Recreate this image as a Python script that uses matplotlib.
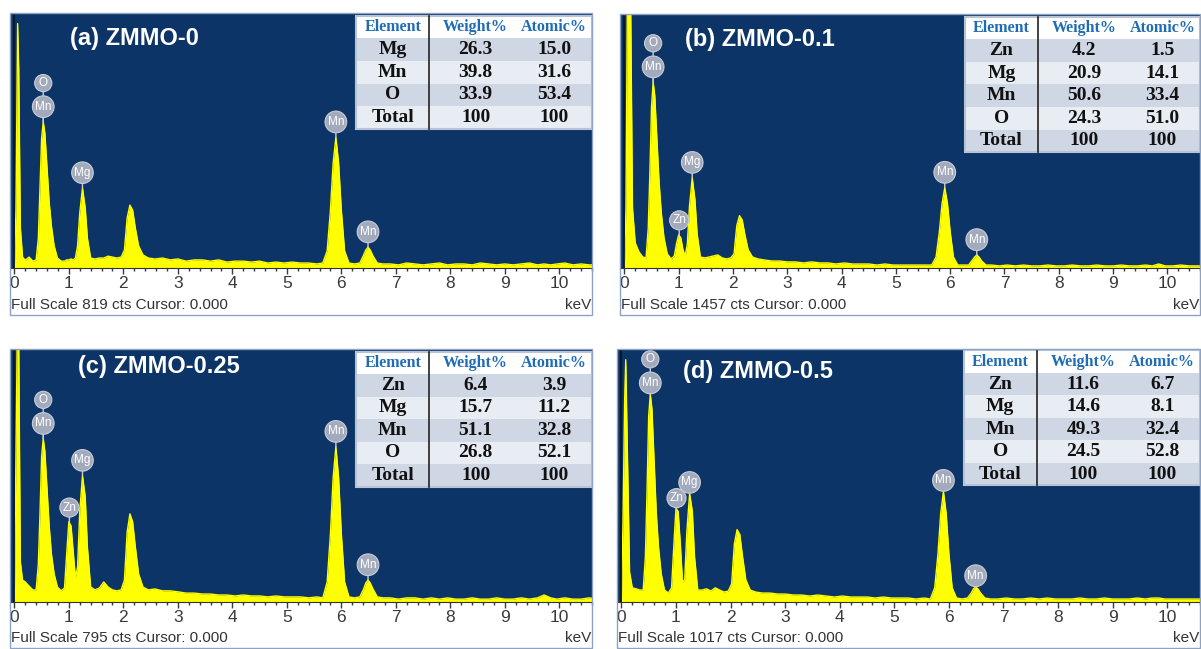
# -*- coding: utf-8 -*-
"""
EDS-spekter for ZMMO-prøvene (a)-(d), med tabell over grunnstoffsammensetning.
"""

import numpy as np
import matplotlib.pyplot as plt
from matplotlib.patches import Rectangle
from matplotlib.ticker import MultipleLocator

# =========================================================================== #
# ================================== Data =================================== #

# energiakse (keV), felles for alle fire spektrene
energy = [
    # lavenergi-topp
    0.00, 0.03, 0.06, 0.08, 0.11, 0.15, 0.20, 0.27, 0.34,
    # O K / Mn L
    0.40, 0.44, 0.47, 0.50, 0.53, 0.56, 0.60, 0.64, 0.68, 0.73, 0.79, 0.86,
    # Zn L / Mg K
    0.92, 0.96, 1.00, 1.04, 1.08, 1.12, 1.16, 1.20, 1.25, 1.30, 1.34, 1.40,
    # bakgrunn
    1.48, 1.56, 1.64, 1.72, 1.80, 1.88, 1.96,
    # topp ved 2.1 keV
    2.02, 2.07, 2.12, 2.17, 2.22, 2.28, 2.36, 2.46,
    # bakgrunn
    2.58, 2.72, 2.86, 3.00, 3.15, 3.30, 3.45, 3.60, 3.75, 3.90, 4.05, 4.20,
    4.35, 4.50, 4.65, 4.80, 4.95, 5.10, 5.25, 5.40, 5.55, 5.66,
    # Mn K-alfa / K-beta
    5.74, 5.80, 5.85, 5.90, 5.95, 6.00, 6.06, 6.14, 6.24, 6.34, 6.41, 6.45,
    6.49, 6.53, 6.58, 6.66, 6.76,
    # høyenergi-bakgrunn
    6.90, 7.05, 7.20, 7.35, 7.50, 7.65, 7.80, 7.95, 8.10, 8.25, 8.40, 8.55,
    8.70, 8.85, 9.00, 9.15, 9.30, 9.45, 9.60, 9.72, 9.84, 9.96, 10.10, 10.25,
    10.40, 10.55, 10.70,
]

counts_a = [
    0, 190, 785, 640, 130, 35, 25, 35, 22,
    26, 96, 257, 417, 469, 433, 321, 209, 135, 71, 32, 22,
    22, 26, 26, 29, 26, 32, 71, 177, 257, 193, 96, 32,
    29, 32, 32, 38, 35, 32, 35,
    58, 161, 202, 186, 128, 71, 42, 32,
    29, 32, 26, 29, 22, 26, 26, 22, 26, 19, 22, 22,
    19, 22, 16, 19, 16, 19, 16, 16, 13, 16,
    55, 186, 337, 420, 337, 186, 55, 16, 13, 16, 42, 58,
    67, 58, 39, 16, 13,
    13, 10, 16, 13, 10, 13, 16, 10, 13, 13, 10, 16,
    13, 10, 13, 10, 13, 16, 10, 13, 10, 13, 16, 10,
    13, 10, 10,
]

counts_b = [
    0, 346, 1728, 1728, 1728, 346, 144, 92, 63,
    58, 230, 547, 922, 1066, 991, 737, 490, 317, 173, 81, 52,
    69, 138, 190, 173, 104, 69, 138, 357, 518, 392, 196, 63,
    58, 63, 69, 75, 58, 52, 58,
    81, 242, 300, 276, 190, 104, 63, 52,
    46, 40, 40, 35, 35, 29, 35, 29, 29, 23, 29, 23,
    23, 23, 17, 23, 17, 17, 17, 17, 17, 17,
    63, 207, 369, 461, 369, 207, 63, 17, 17, 17, 46, 63,
    75, 63, 40, 17, 17,
    12, 17, 12, 17, 12, 12, 17, 12, 12, 17, 12, 12,
    17, 12, 12, 17, 12, 12, 17, 12, 23, 12, 12, 17,
    12, 12, 12,
]

counts_c = [
    0, 473, 945, 819, 126, 69, 63, 50, 38,
    38, 120, 277, 457, 513, 473, 353, 236, 151, 88, 47, 35,
    44, 151, 252, 239, 158, 76, 110, 284, 397, 331, 173, 47,
    38, 44, 63, 47, 38, 35, 38,
    69, 220, 277, 252, 173, 88, 47, 38,
    41, 35, 35, 32, 28, 28, 25, 25, 22, 22, 19, 22,
    19, 19, 16, 19, 16, 16, 16, 13, 16, 13,
    63, 214, 391, 488, 391, 214, 63, 16, 13, 16, 41, 60,
    69, 60, 41, 16, 13,
    13, 9, 13, 13, 9, 13, 9, 13, 9, 9, 13, 9,
    9, 13, 9, 9, 13, 9, 13, 22, 13, 9, 13, 9,
    9, 13, 9,
]

counts_d = [
    0, 323, 808, 974, 606, 121, 57, 53, 48,
    48, 182, 444, 747, 836, 776, 566, 356, 222, 113, 48, 36,
    57, 222, 376, 364, 234, 81, 89, 283, 436, 364, 182, 48,
    48, 53, 44, 57, 48, 40, 44,
    73, 234, 291, 271, 182, 89, 48, 40,
    36, 36, 32, 32, 28, 28, 24, 28, 24, 20, 24, 20,
    20, 20, 16, 20, 16, 16, 16, 12, 16, 12,
    57, 194, 356, 444, 356, 194, 57, 16, 12, 16, 36, 53,
    61, 53, 36, 16, 12,
    12, 16, 12, 12, 16, 12, 16, 12, 12, 12, 16, 12,
    12, 16, 12, 12, 12, 16, 12, 16, 16, 12, 12, 12,
    12, 12, 12,
]

full_scale = [819, 1457, 795, 1017]
titles = ['(a) ZMMO-0', '(b) ZMMO-0.1', '(c) ZMMO-0.25', '(d) ZMMO-0.5']

# toppmerker: energi og grunnstoff(er), nederst først
peaks_a = [(0.53, ['Mn', 'O']), (1.25, ['Mg']), (5.90, ['Mn']), (6.49, ['Mn'])]
peaks_zn = [(0.53, ['Mn', 'O']), (1.01, ['Zn']), (1.25, ['Mg']),
            (5.90, ['Mn']), (6.49, ['Mn'])]

# sammensetningstabeller
elements_a = ['Mg', 'Mn', 'O', 'Total']
weight_a = ['26.3', '39.8', '33.9', '100']
atomic_a = ['15.0', '31.6', '53.4', '100']

elements_b = ['Zn', 'Mg', 'Mn', 'O', 'Total']
weight_b = ['4.2', '20.9', '50.6', '24.3', '100']
atomic_b = ['1.5', '14.1', '33.4', '51.0', '100']

elements_c = ['Zn', 'Mg', 'Mn', 'O', 'Total']
weight_c = ['6.4', '15.7', '51.1', '26.8', '100']
atomic_c = ['3.9', '11.2', '32.8', '52.1', '100']

elements_d = ['Zn', 'Mg', 'Mn', 'O', 'Total']
weight_d = ['11.6', '14.6', '49.3', '24.5', '100']
atomic_d = ['6.7', '8.1', '32.4', '52.8', '100']

# =========================================================================== #
# ================================ Plotting ================================= #

W, H = 1201, 649
plt.rcParams['font.family'] = ['Liberation Sans', 'DejaVu Sans']
fig = plt.figure(figsize=(W / 100, H / 100), dpi=100)

bg_blue = '#0c3466'
bubble_fc = '#a3aabb'
bubble_ec = '#c9ced8'

# piksel-plassering: (venstre, topp, høyre, aksebunn, rammebunn)
boxes = [(10, 13, 592, 268, 315), (620, 14, 1200, 268, 315),
         (10, 349, 592, 602, 648), (617, 349, 1200, 602, 648)]
title_pos = [(0.103, 0.90), (0.112, 0.90), (0.117, 0.93), (0.113, 0.91)]
table_top = [0.99, 0.99, 0.99, 0.995]
first_offset = [11, 11, 11, 8]   # avstand fra topp til nederste boble (pt)

spectra = [counts_a, counts_b, counts_c, counts_d]
peak_sets = [peaks_a, peaks_zn, peaks_zn, peaks_zn]
tables = [(elements_a, weight_a, atomic_a), (elements_b, weight_b, atomic_b),
          (elements_c, weight_c, atomic_c), (elements_d, weight_d, atomic_d)]

for k in range(4):
    x0, y0, x1, ya, yb = boxes[k]
    ax = fig.add_axes([x0 / W, 1 - ya / H, (x1 - x0) / W, (ya - y0) / H])
    ax.set_facecolor(bg_blue)

    # spekter
    ax.fill_between(energy, spectra[k], 0, color='#ffff00', lw=0, zorder=2)
    ax.plot(energy, spectra[k], color='#ffff00', lw=1.0, zorder=2)
    ax.axvline(0, color='#0a1628', lw=1.3, zorder=3)

    ax.set_xlim(-0.08, 10.6)
    ax.set_ylim(0, full_scale[k])
    ax.set_yticks([])
    ax.xaxis.set_major_locator(MultipleLocator(1))
    ax.xaxis.set_minor_locator(MultipleLocator(0.2))
    ax.tick_params(axis='x', which='major', length=4.5, width=1, colors='#3a3a3a',
                   labelsize=12.5, pad=1.5, direction='out')
    ax.tick_params(axis='x', which='minor', length=2.5, width=1, colors='#3a3a3a',
                   direction='out')
    for s in ['top', 'left', 'right']:
        ax.spines[s].set_visible(False)
    ax.spines['bottom'].set_color('#333333')

    # tittel
    ax.text(title_pos[k][0], title_pos[k][1], titles[k], transform=ax.transAxes,
            color='white', fontsize=17, fontweight='bold', ha='left', va='center',
            zorder=6)

    # toppmerker (bobler)
    for E, names in peak_sets[k]:
        h = np.interp(E, energy, spectra[k])
        for j in reversed(range(len(names))):
            ax.annotate(names[j], xy=(E, h), xytext=(0, first_offset[k] + 17 * j),
                        textcoords='offset points', ha='center', va='center',
                        fontsize=8.5, color='white', zorder=7, annotation_clip=False,
                        bbox=dict(boxstyle='circle,pad=0.22', fc=bubble_fc,
                                  ec=bubble_ec, lw=0.8),
                        arrowprops=dict(arrowstyle='-', color=bubble_ec, lw=1,
                                        shrinkA=0, shrinkB=0))

    # tabell
    el, wt, at = tables[k]
    left, div, right = 0.595, 0.72, 1.0
    rowh = 0.089
    top = table_top[k]
    n = len(el) + 1
    centers = [(left + div) / 2, 0.80, 0.935]
    rows = [['Element', 'Weight%', 'Atomic%']] + [[el[i], wt[i], at[i]] for i in range(len(el))]
    for i in range(n):
        yr = top - (i + 1) * rowh
        if i == 0:
            fc = 'white'
        elif i % 2 == 1:
            fc = '#cfd6e4'
        else:
            fc = '#e8ecf3'
        ax.add_patch(Rectangle((left, yr), right - left, rowh, transform=ax.transAxes,
                               fc=fc, ec='none', zorder=8, clip_on=False))
        for c in range(3):
            if i == 0:
                ax.text(centers[c], yr + rowh / 2, rows[i][c], transform=ax.transAxes,
                        ha='center', va='center', fontsize=11.5, fontweight='bold',
                        family='Liberation Serif', color='#1f6cb5', zorder=9)
            else:
                ax.text(centers[c], yr + rowh / 2, rows[i][c], transform=ax.transAxes,
                        ha='center', va='center', fontsize=14, fontweight='bold',
                        family='Liberation Serif', color='#111111', zorder=9)
    ax.add_patch(Rectangle((left, top - n * rowh), right - left, n * rowh,
                           transform=ax.transAxes, fill=False, ec='#b9c3d6', lw=1.5,
                           zorder=9, clip_on=False))
    ax.plot([div, div], [top - n * rowh, top], transform=ax.transAxes,
            color='#222222', lw=1.2, zorder=9, clip_on=False)

    # ramme og tekst under aksen
    fig.add_artist(Rectangle((x0 / W, 1 - yb / H), (x1 - x0) / W, (yb - y0) / H,
                             transform=fig.transFigure, fill=False, ec='#8ea3c4', lw=1))
    fig.text((x0 + 1) / W, 1 - (yb - 10) / H,
             'Full Scale %d cts Cursor: 0.000' % full_scale[k],
             fontsize=11, color='#333333', ha='left', va='center')
    fig.text((x1 - 1) / W, 1 - (yb - 10) / H, 'keV',
             fontsize=11, color='#333333', ha='right', va='center')

fig.savefig('out.png', dpi=100)
